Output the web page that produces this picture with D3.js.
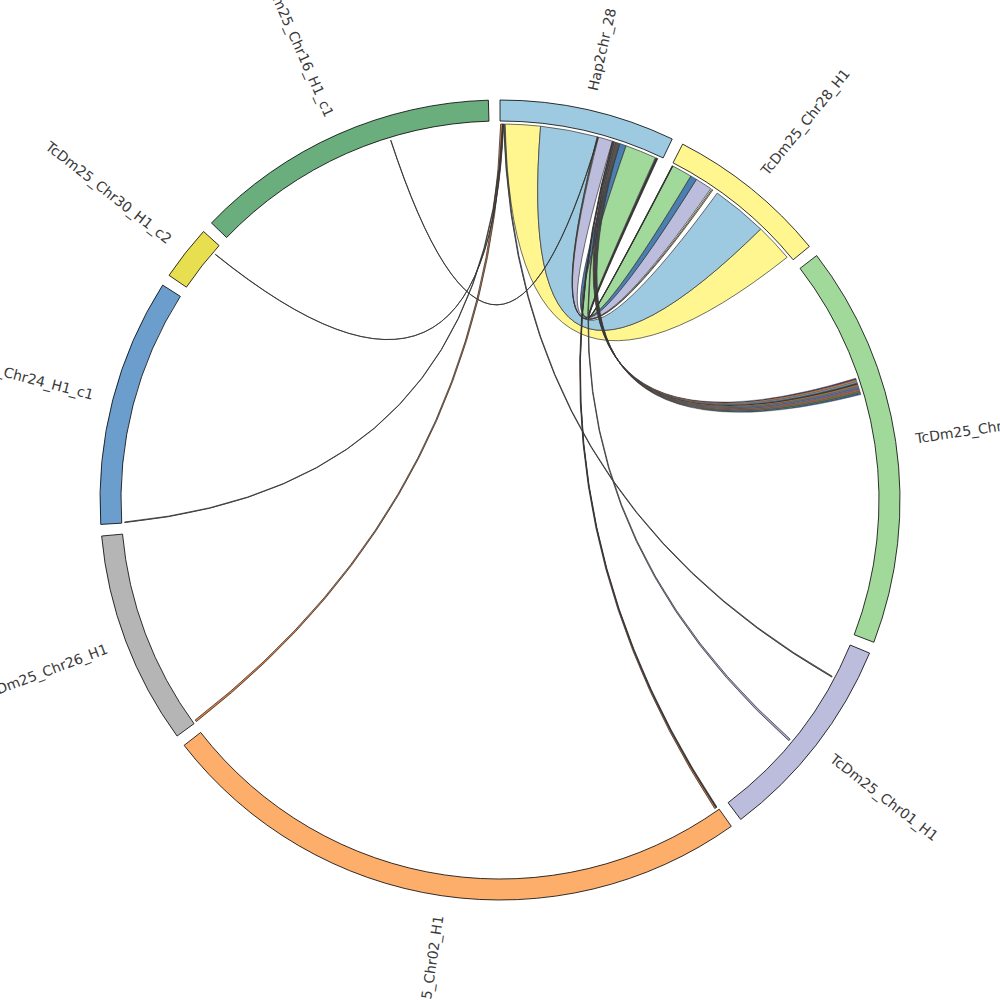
<!DOCTYPE html>
<html>
<head>
<meta charset="utf-8">
<script src="https://cdn.jsdelivr.net/npm/d3@7"></script>
<style>
  body { margin: 0; background: #fff; }
  svg { display: block; }
</style>
</head>
<body>
<div id="root"></div>
<script>
// chromosomes, clockwise from 12 o'clock (lengths in Mb)
const chromNames = [
  "Hap2chr_28", "TcDm25_Chr28_H1", "TcDm25_Chr08_H1", "TcDm25_Chr01_H1",
  "TcDm25_Chr02_H1", "TcDm25_Chr26_H1", "TcDm25_Chr24_H1_c1",
  "TcDm25_Chr30_H1_c2", "TcDm25_Chr16_H1_c1"
];
const chromLengths = [1.02, 0.94, 2.34, 1.22, 3.5, 1.24, 1.44, 0.32, 1.78];
const chromColors = [
  "#9ecae1", "#fff68f", "#a1d99b", "#bcbddc", "#fdae6b",
  "#b5b5b5", "#6b9ecc", "#e8df50", "#6aae7e"
];

// links: [chrA, startA, endA, chrB, startB, endB, fill]
const blockLinks = [
  [0, 0.032, 0.248, 1, 0.669, 0.905, "#fff68f"],
  [0, 0.248, 0.600, 1, 0.325, 0.669, "#9ecae1"],
  [0, 0.608, 0.696, 1, 0.173, 0.277, "#bcbddc"],
  [0, 0.744, 0.784, 1, 0.133, 0.173, "#4a7fb0"],
  [0, 0.784, 0.976, 1, 0.008, 0.133, "#a1d99b"]
];

const bundleLinks = [
  [0, 0.7060, 0.7098, 2, 0.7510, 0.7614, "#4b3f72"],
  [0, 0.7098, 0.7136, 2, 0.7614, 0.7718, "#e6883a"],
  [0, 0.7136, 0.7174, 2, 0.7718, 0.7822, "#6f9fc8"],
  [0, 0.7174, 0.7212, 2, 0.7822, 0.7926, "#3f3f3f"],
  [0, 0.7212, 0.7250, 2, 0.7926, 0.8030, "#d2732c"],
  [0, 0.7250, 0.7288, 2, 0.8030, 0.8134, "#4f86a8"],
  [0, 0.7288, 0.7326, 2, 0.8134, 0.8238, "#7a6aa6"],
  [0, 0.7326, 0.7364, 2, 0.8238, 0.8342, "#c56a35"],
  [0, 0.7364, 0.7402, 2, 0.8342, 0.8446, "#5c7f5a"],
  [0, 0.7402, 0.7440, 2, 0.8446, 0.8550, "#3a5f88"]
];

const thinLinks = [
  [0, 0.600, 0.604, 1, 0.285, 0.292, "#d8d27a"],
  [0, 0.980, 0.986, 1, 0.004, 0.006, "#333333"],
  [0, 0.986, 0.992, 1, 0.006, 0.008, "#333333"],
  [0, 0.004, 0.016, 5, 0.002, 0.014, "#e07b39"],
  [0, 0.016, 0.020, 6, 0.002, 0.006, "#7a5a3a"],
  [0, 0.020, 0.022, 7, 0.264, 0.266, "#222222"],
  [0, 0.022, 0.028, 3, 0.218, 0.224, "#555555"],
  [0, 0.604, 0.606, 8, 1.170, 1.172, "#222222"],
  [0, 0.696, 0.700, 4, 0.010, 0.020, "#e07b39"],
  [0, 0.700, 0.702, 4, 0.004, 0.010, "#2b2b4b"],
  [0, 0.702, 0.706, 3, 0.680, 0.692, "#a9a9d4"]
];

const width = 1000;
const height = 1000;
const outerRadius = 400;
const innerRadius = 379;
const linkRadius = 376;
const labelRadius = 420;
const labelFontSize = 14;
const ctrlFactor = 0.08;
const padAngle = ((15 / 9) * Math.PI) / 180;

const total = d3.sum(chromLengths);
const chromStarts = Array.from(d3.cumsum(chromLengths), (c, i) => c - chromLengths[i]);
const angleScale = d3
  .scaleLinear()
  .domain([0, total])
  .range([0, 2 * Math.PI - padAngle * chromNames.length]);

const angle = (chr, pos) => angleScale(chromStarts[chr] + pos) + chr * padAngle;
const pt = (a, r) => [r * Math.sin(a), -r * Math.cos(a)];

function ctrl(a, b) {
  const p = pt(a, linkRadius);
  const q = pt(b, linkRadius);
  return [((p[0] + q[0]) / 2) * ctrlFactor, ((p[1] + q[1]) / 2) * ctrlFactor];
}

function ribbonPath(l) {
  const s0 = angle(l[0], l[1]);
  const s1 = angle(l[0], l[2]);
  const t0 = angle(l[3], l[4]);
  const t1 = angle(l[3], l[5]);
  const r = linkRadius;
  const p = d3.path();
  p.moveTo(...pt(s0, r));
  p.arc(0, 0, r, s0 - Math.PI / 2, s1 - Math.PI / 2);
  const c1 = ctrl(s1, t0);
  p.quadraticCurveTo(c1[0], c1[1], ...pt(t0, r));
  p.arc(0, 0, r, t0 - Math.PI / 2, t1 - Math.PI / 2);
  const c2 = ctrl(t1, s0);
  p.quadraticCurveTo(c2[0], c2[1], ...pt(s0, r));
  p.closePath();
  return p.toString();
}

const svg = d3
  .select("#root")
  .append("svg")
  .attr("width", width)
  .attr("height", height)
  .attr("viewBox", `0 0 ${width} ${height}`);

const g = svg.append("g").attr("transform", `translate(${width / 2}, ${height / 2})`);

// ideogram ring
const arc = d3.arc().innerRadius(innerRadius).outerRadius(outerRadius);
g.append("g")
  .selectAll("path")
  .data(chromNames)
  .join("path")
  .attr("d", (d, i) => arc({ startAngle: angle(i, 0), endAngle: angle(i, chromLengths[i]) }))
  .attr("fill", (d, i) => chromColors[i])
  .attr("stroke", "#000")
  .attr("stroke-width", 0.8);

// links
const drawLinks = (data, sw) =>
  g.append("g")
    .selectAll("path")
    .data(data)
    .join("path")
    .attr("d", ribbonPath)
    .attr("fill", (d) => d[6])
    .attr("stroke", "#333")
    .attr("stroke-width", sw)
    .attr("stroke-linejoin", "round");

drawLinks(blockLinks, 0.7);
drawLinks(bundleLinks, 0.4);
drawLinks(thinLinks, 0.8);

// labels
g.append("g")
  .selectAll("text")
  .data(chromNames)
  .join("text")
  .text((d) => d)
  .attr("transform", (d, i) => {
    const mid = ((angle(i, 0) + angle(i, chromLengths[i])) / 2) * 180 / Math.PI;
    const flip = mid > 180 ? " rotate(180)" : "";
    return `rotate(${mid - 90}) translate(${labelRadius}, 0)${flip}`;
  })
  .attr("text-anchor", (d, i) => {
    const mid = (angle(i, 0) + angle(i, chromLengths[i])) / 2;
    return mid > Math.PI ? "end" : "start";
  })
  .attr("dominant-baseline", "central")
  .attr("font-family", "DejaVu Sans, sans-serif")
  .attr("font-size", labelFontSize)
  .attr("fill", "#3a3a3a");
</script>
</body>
</html>
